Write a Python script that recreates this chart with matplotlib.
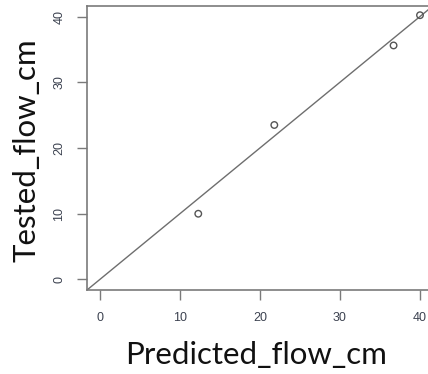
import matplotlib
matplotlib.use("Agg")
import matplotlib.pyplot as plt

predicted = [12.3, 21.8, 36.7, 40.0]
tested = [10.0, 23.5, 35.6, 40.2]
xticks = [0, 10, 20, 30, 40]
yticks = [0, 10, 20, 30, 40]
xlim = (-1.6, 41.6)
ylim = (-1.6, 41.6)

W, H = 428, 374
fig = plt.figure(figsize=(W / 100, H / 100), dpi=100)
left, right, bottom, top = 87, 432.8, 290, 6
ax = fig.add_axes([left / W, 1 - bottom / H, (right - left) / W, (bottom - top) / H])

ax.set_xlim(*xlim)
ax.set_ylim(*ylim)
ax.plot(xlim, ylim, color="#6e6e6e", lw=1.0, zorder=2)
ax.scatter(predicted, tested, s=22, facecolors="none", edgecolors="#555555", linewidths=1.0, zorder=3)

for s in ax.spines.values():
    s.set_color("#7a7a7a")
    s.set_linewidth(1.2)

ax.set_xticks(xticks)
ax.set_yticks(yticks)
ax.tick_params(direction="out", length=7.5, width=1.0, color="#7a7a7a",
               labelsize=9, labelcolor="#3c4250", pad=8)
for lab in ax.get_xticklabels() + ax.get_yticklabels():
    lab.set_family("Liberation Sans")
for lab in ax.get_yticklabels():
    lab.set_rotation(90)
    lab.set_va("center")

fig.text(256 / W, 1 - 355 / H, "Predicted_flow_cm", ha="center", va="center",
         fontsize=22.5, family="Lato", color="#111111")
fig.text(27 / W, 1 - 150 / H, "Tested_flow_cm", ha="center", va="center",
         fontsize=22.5, family="Lato", color="#111111", rotation=90)

fig.savefig("out.png", dpi=100)
